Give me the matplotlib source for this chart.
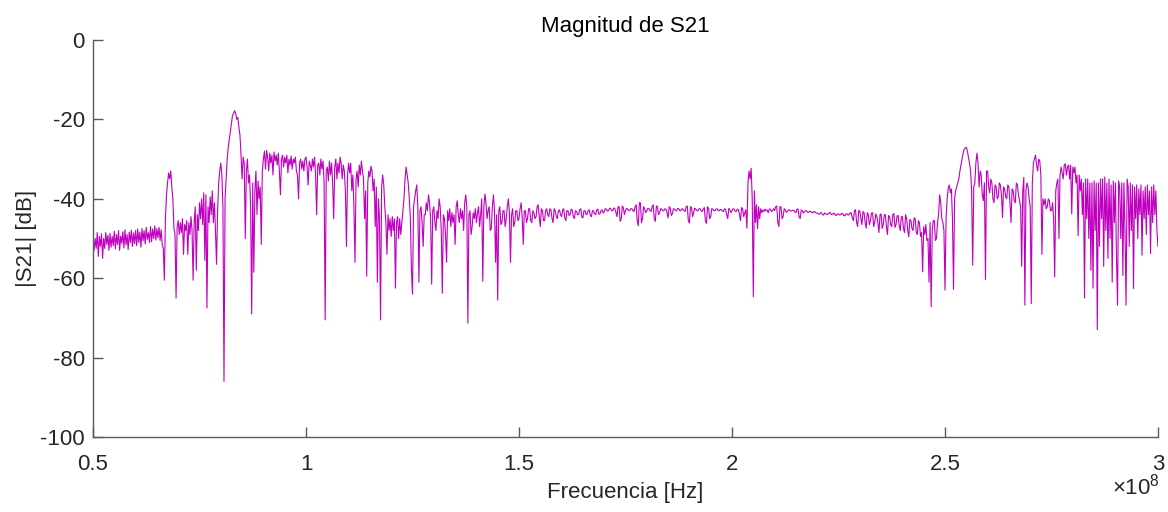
import numpy as np
import matplotlib
matplotlib.use("Agg")
import matplotlib.pyplot as plt
from matplotlib.ticker import FuncFormatter

plt.rcParams['font.family'] = ['Liberation Sans', 'DejaVu Sans']
plt.rcParams['axes.unicode_minus'] = False
plt.rcParams['mathtext.fontset'] = 'custom'
plt.rcParams['mathtext.rm'] = 'Liberation Sans'

# sweep: 50 MHz .. 300 MHz, 0.25 MHz step (1001 points)
f_start_mhz = 50.0
f_stop_mhz = 300.0

# |S21| in dB, two lines = 10 MHz
s21_db = [
    -49.0, -53.0, -50.0, -52.5, -48.5, -54.5, -49.5, -52.0, -48.8, -55.0, -50.0, -52.5, -48.5, -51.5, -49.2, -53.0, -48.7, -52.2, -49.5, -51.8,
    -48.2, -52.6, -49.0, -51.5, -48.0, -53.0, -49.4, -51.2, -48.3, -52.4, -47.8, -51.6, -49.0, -52.8, -48.4, -51.0, -47.9, -52.0, -48.6, -51.3,
    # 60 MHz
    -48.0, -51.8, -47.6, -51.0, -48.4, -52.2, -47.5, -50.6, -48.0, -51.4, -47.2, -50.2, -48.5, -51.0, -47.0, -50.8, -47.6, -50.0, -46.8, -50.4,
    -47.5, -49.8, -47.2, -50.5, -47.8, -51.5, -52.5, -60.5, -45.0, -39.0, -36.0, -33.5, -35.0, -33.0, -37.0, -40.0, -47.5, -49.0, -65.0, -47.0,
    # 70 MHz
    -45.5, -49.0, -46.0, -48.5, -45.0, -54.0, -46.5, -48.0, -45.5, -54.0, -46.0, -49.0, -44.5, -48.0, -60.5, -46.0, -42.0, -58.0, -44.0, -48.0,
    -41.0, -45.0, -40.0, -46.5, -38.5, -55.5, -39.0, -67.5, -42.0, -46.0, -39.5, -44.0, -38.0, -46.0, -41.0, -48.0, -56.5, -43.0, -36.0, -33.0,
    # 80 MHz
    -31.0, -34.0, -42.0, -86.0, -40.0, -35.0, -30.0, -27.0, -25.0, -23.0, -21.0, -19.0, -18.5, -17.8, -18.5, -20.0, -19.5, -22.0, -24.0, -29.0,
    -35.0, -29.5, -31.0, -50.0, -33.0, -30.0, -36.0, -34.0, -42.0, -69.0, -36.0, -58.5, -38.0, -33.0, -44.0, -35.5, -40.0, -37.0, -51.5, -33.0,
    # 90 MHz
    -30.0, -28.0, -32.5, -27.8, -29.5, -33.0, -28.5, -31.0, -29.0, -34.0, -28.2, -30.5, -29.0, -31.5, -28.5, -33.0, -39.0, -30.0, -29.0, -32.0,
    -29.5, -31.0, -29.0, -33.5, -30.0, -31.5, -29.2, -32.5, -30.0, -31.0, -29.5, -33.0, -34.0, -40.0, -31.0, -30.0, -32.5, -30.5, -33.0, -30.0,
    # 100 MHz
    -29.5, -32.0, -36.5, -30.5, -31.5, -33.0, -30.0, -32.0, -29.5, -34.0, -44.0, -31.5, -31.0, -34.0, -30.0, -32.5, -30.5, -36.0, -70.5, -33.0,
    -32.0, -35.5, -30.5, -34.0, -31.0, -36.0, -45.0, -32.0, -30.0, -35.0, -31.0, -33.5, -29.5, -31.0, -35.0, -31.5, -33.0, -38.0, -52.0, -34.0,
    # 110 MHz
    -31.0, -33.5, -31.0, -38.0, -34.0, -42.0, -56.0, -35.0, -33.0, -37.0, -31.5, -34.0, -30.5, -33.0, -35.0, -45.0, -38.0, -59.5, -36.0, -33.0,
    -34.5, -31.8, -33.0, -38.0, -35.0, -47.0, -37.0, -61.0, -40.0, -45.0, -70.5, -37.0, -34.0, -36.5, -42.0, -46.0, -54.0, -44.0, -48.0, -45.0,
    # 120 MHz
    -49.5, -44.5, -48.0, -45.0, -62.5, -46.0, -44.5, -50.0, -45.0, -49.0, -46.0, -43.0, -40.0, -35.0, -32.0, -34.0, -36.0, -40.0, -45.0, -58.0,
    -64.0, -42.0, -40.0, -38.0, -36.5, -42.0, -61.0, -43.0, -42.0, -46.0, -52.0, -44.0, -44.0, -41.0, -43.0, -39.0, -41.0, -45.0, -61.5, -43.0,
    # 130 MHz
    -42.0, -46.0, -48.0, -43.0, -45.0, -40.0, -42.0, -48.0, -63.8, -44.0, -45.0, -49.0, -56.0, -43.0, -45.5, -42.5, -47.0, -43.5, -46.0, -44.0,
    -51.5, -42.0, -40.5, -44.0, -46.0, -42.5, -45.0, -43.0, -48.0, -41.0, -39.0, -42.0, -71.3, -44.0, -43.0, -49.0, -47.0, -43.5, -45.0, -42.5,
    # 140 MHz
    -46.0, -43.5, -42.0, -47.0, -44.0, -40.0, -60.8, -42.0, -38.8, -41.0, -45.0, -43.0, -42.0, -48.0, -47.5, -42.0, -39.0, -43.0, -56.0, -44.0,
    -65.5, -43.0, -42.0, -46.5, -46.0, -43.0, -43.0, -47.0, -45.0, -42.0, -40.0, -43.5, -56.0, -44.0, -42.5, -47.0, -46.0, -43.0, -43.0, -45.5,
    # 150 MHz
    -45.0, -42.5, -41.0, -44.5, -51.5, -43.0, -43.0, -46.0, -45.0, -42.5, -42.5, -45.5, -46.0, -43.0, -43.5, -45.0, -44.5, -42.0, -41.5, -44.5,
    -47.0, -42.5, -43.0, -45.5, -45.5, -43.0, -42.5, -44.0, -44.5, -42.5, -42.8, -45.0, -46.0, -42.5, -43.0, -44.5, -45.0, -43.0, -42.8, -44.0,
    # 160 MHz
    -44.5, -42.8, -42.5, -44.8, -45.5, -43.0, -43.0, -44.2, -44.0, -42.6, -42.8, -44.5, -45.0, -43.0, -43.2, -44.0, -44.0, -42.8, -42.5, -44.6,
    -44.8, -43.0, -43.0, -44.0, -43.8, -42.9, -42.8, -44.2, -44.5, -43.0, -43.0, -43.8, -44.0, -42.8, -42.6, -43.9, -43.8, -43.0, -42.8, -43.6,
    # 170 MHz
    -43.2, -42.5, -42.6, -43.1, -43.0, -42.4, -42.4, -43.0, -43.0, -42.3, -42.5, -43.4, -44.5, -42.0, -42.0, -45.7, -45.0, -41.8, -42.3, -44.0,
    -43.0, -42.4, -42.6, -43.0, -43.0, -42.5, -42.5, -43.0, -43.2, -42.0, -41.5, -45.5, -46.8, -41.0, -41.0, -46.0, -45.0, -42.0, -42.5, -43.5,
    # 180 MHz
    -43.0, -42.4, -42.5, -43.0, -43.2, -42.0, -41.5, -45.0, -45.7, -41.8, -42.0, -44.0, -43.5, -42.5, -42.6, -43.0, -43.0, -42.5, -42.6, -43.5,
    -44.8, -42.0, -42.3, -44.2, -43.8, -42.5, -42.6, -43.0, -43.0, -42.4, -42.5, -43.0, -43.0, -42.5, -42.6, -43.0, -43.2, -42.0, -41.8, -45.5,
    # 190 MHz
    -46.1, -42.0, -42.2, -44.5, -43.5, -42.4, -42.6, -43.0, -43.0, -42.5, -42.5, -43.0, -43.2, -42.6, -42.2, -45.5, -46.2, -42.0, -42.4, -45.0,
    -44.5, -42.5, -42.6, -43.0, -43.0, -42.6, -42.5, -43.0, -43.0, -42.7, -42.7, -43.1, -43.2, -42.5, -42.7, -44.0, -45.0, -42.4, -42.8, -43.5,
    # 200 MHz
    -43.0, -42.5, -42.6, -43.2, -43.2, -42.6, -42.7, -44.0, -45.5, -42.2, -42.5, -44.5, -43.5, -42.8, -47.4, -36.0, -33.0, -35.0, -32.3, -40.0,
    -64.7, -38.0, -46.0, -41.5, -47.5, -42.0, -45.0, -42.5, -43.5, -42.8, -43.2, -42.6, -43.0, -42.8, -43.5, -42.6, -42.6, -43.2, -43.0, -42.5,
    # 210 MHz
    -43.0, -42.0, -41.8, -46.0, -47.0, -42.0, -42.0, -45.0, -44.5, -42.5, -42.8, -43.4, -43.2, -42.8, -42.8, -43.1, -43.0, -42.9, -42.9, -43.3,
    -43.5, -42.6, -42.6, -44.5, -45.0, -42.8, -43.0, -43.6, -43.3, -43.0, -43.0, -43.4, -43.4, -43.1, -43.2, -43.5, -43.5, -43.2, -43.3, -43.6,
    # 220 MHz
    -43.6, -43.8, -43.9, -43.5, -43.5, -44.0, -44.1, -43.6, -43.7, -44.0, -43.9, -43.6, -43.4, -43.9, -44.0, -43.7, -43.6, -44.1, -44.2, -43.8,
    -43.8, -44.1, -44.0, -43.7, -43.7, -44.2, -44.3, -43.8, -43.8, -44.1, -44.0, -43.5, -43.6, -44.8, -45.5, -42.9, -42.8, -46.0, -47.0, -43.0,
    # 230 MHz
    -43.0, -45.0, -46.5, -43.2, -43.5, -46.0, -47.4, -43.5, -44.0, -46.5, -45.5, -43.6, -43.5, -47.0, -46.0, -43.8, -44.5, -46.0, -48.5, -44.0,
    -43.8, -47.5, -46.5, -44.0, -44.0, -47.0, -49.0, -44.2, -44.5, -46.5, -47.0, -44.0, -43.7, -47.2, -46.5, -44.3, -44.2, -46.8, -48.0, -44.5,
    # 240 MHz
    -44.5, -47.5, -48.5, -44.0, -45.0, -48.0, -49.6, -45.2, -45.5, -47.5, -48.0, -44.8, -45.0, -48.5, -49.0, -45.5, -46.0, -49.5, -48.5, -58.4,
    -47.0, -49.0, -46.5, -50.5, -50.0, -61.0, -46.0, -67.2, -48.0, -45.5, -45.5, -50.5, -50.0, -46.0, -44.0, -39.0, -41.0, -45.0, -46.0, -48.0,
    # 250 MHz
    -63.0, -45.0, -40.0, -37.5, -36.5, -38.5, -37.5, -45.0, -62.8, -40.0, -38.0, -37.0, -36.0, -35.0, -33.0, -31.5, -30.0, -28.5, -27.5, -27.2,
    -27.0, -28.0, -29.5, -31.0, -33.0, -38.0, -56.7, -37.0, -36.0, -31.0, -28.5, -31.0, -37.0, -33.0, -34.0, -39.0, -40.5, -36.0, -60.3, -33.0,
    # 260 MHz
    -33.0, -37.0, -38.5, -35.0, -36.0, -40.0, -41.0, -36.5, -37.0, -40.0, -39.5, -36.0, -36.5, -39.0, -44.7, -37.0, -37.5, -39.5, -40.0, -36.5,
    -37.0, -41.0, -46.0, -37.5, -38.0, -40.5, -41.0, -36.0, -36.5, -39.0, -40.5, -42.0, -57.0, -38.0, -34.6, -66.8, -38.0, -36.0, -37.0, -40.0,
    # 270 MHz
    -42.0, -66.4, -36.0, -31.0, -30.0, -29.0, -31.5, -33.0, -30.0, -30.5, -34.0, -54.0, -40.0, -41.5, -40.0, -42.5, -42.0, -40.0, -40.5, -43.0,
    -43.0, -41.0, -45.0, -59.7, -38.0, -36.0, -35.0, -50.0, -34.0, -32.0, -33.5, -35.0, -31.5, -31.2, -34.0, -32.0, -31.5, -35.0, -31.5, -43.8,
    # 280 MHz
    -32.0, -33.5, -32.0, -36.0, -34.0, -49.3, -34.0, -38.0, -35.0, -44.0, -36.0, -65.0, -35.0, -45.0, -35.0, -50.0, -36.0, -58.0, -36.0, -62.5,
    -35.5, -48.0, -36.0, -73.0, -36.0, -52.0, -35.0, -45.0, -35.0, -57.0, -34.5, -48.0, -36.0, -55.0, -35.0, -50.0, -36.5, -61.0, -35.5, -46.0,
    # 290 MHz
    -36.0, -55.0, -66.8, -35.5, -37.0, -50.0, -36.0, -59.3, -36.0, -48.0, -66.8, -35.0, -37.0, -52.0, -36.0, -48.0, -36.5, -62.6, -37.0, -45.0,
    -36.5, -50.0, -37.5, -44.0, -36.5, -54.2, -38.0, -45.0, -37.0, -49.0, -36.5, -44.0, -38.0, -53.8, -37.0, -46.0, -36.5, -44.0, -38.0, -48.0,
    # 300 MHz
    -52.0,
]

x_ticks = [0.5e8, 1e8, 1.5e8, 2e8, 2.5e8, 3e8]
y_ticks = [-100, -80, -60, -40, -20, 0]

freq_hz = np.linspace(f_start_mhz, f_stop_mhz, len(s21_db)) * 1e6
print(len(s21_db))

fig = plt.figure(figsize=(11.68, 5.12), dpi=100)
ax = fig.add_axes([93/1168, 1 - 437/512, 1065/1168, 397/512])

ax.plot(freq_hz, s21_db, color='#BF00BF', lw=0.8)

ax.set_xlim(0.5e8, 3e8)
ax.set_ylim(-100, 0)
ax.set_xticks(x_ticks)
ax.set_yticks(y_ticks)
ax.xaxis.set_major_formatter(FuncFormatter(lambda v, p: '%g' % (v / 1e8)))

for s in ['top', 'right']:
    ax.spines[s].set_visible(False)
for s in ['left', 'bottom']:
    ax.spines[s].set_color('#5a5a5a')
    ax.spines[s].set_linewidth(1.0)
ax.tick_params(direction='in', length=7, width=1.0, color='#5a5a5a',
               labelsize=16, labelcolor='#262626', pad=6)
ax.tick_params(axis='x', pad=12)

ax.set_title('Magnitud de S21', fontsize=16, color='black', pad=6)
ax.set_xlabel('Frecuencia [Hz]', fontsize=16, color='#262626', labelpad=5)
ax.set_ylabel('|S21| [dB]', fontsize=16, color='#262626', labelpad=2)

fig.text(1160/1168, 1 - 494/512, r'$\times10^{8}$', fontsize=16, color='#262626',
         ha='right', va='baseline')

fig.savefig('out.png', dpi=100)
